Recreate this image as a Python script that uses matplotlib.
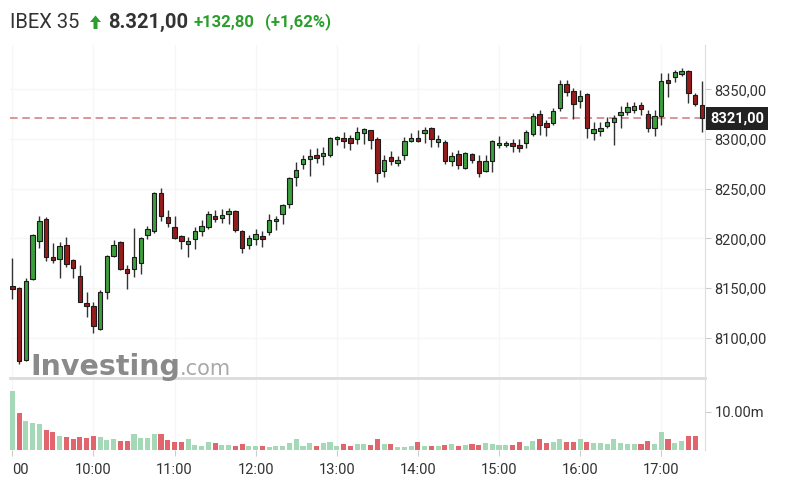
import numpy as np
import matplotlib
matplotlib.use("Agg")
import matplotlib.pyplot as plt
from matplotlib.patches import Polygon
from matplotlib.transforms import Affine2D

plt.rcParams['font.family'] = ['Roboto', 'DejaVu Sans']

# 5-minute candles, IBEX 35, 09:00 .. 17:30
opens = [8152, 8150, 8077, 8159, 8197, 8219, 8181, 8179, 8193, 8178,
         8162, 8135, 8132, 8109, 8146, 8182, 8196, 8169, 8169, 8175,
         8203, 8207, 8246, 8221, 8211, 8202, 8194, 8199, 8207, 8211,
         8222, 8220, 8224, 8228, 8207, 8193, 8199, 8202, 8206, 8217,
         8224, 8235, 8262, 8275, 8280, 8284, 8283, 8284, 8300, 8301,
         8301, 8300, 8306, 8309, 8300, 8268, 8282, 8276, 8284, 8298,
         8301, 8306, 8311, 8297, 8297, 8278, 8285, 8271, 8285, 8278,
         8268, 8278, 8294, 8294, 8296, 8294, 8296, 8305, 8325, 8316,
         8316, 8331, 8355, 8348, 8338, 8345, 8306, 8308, 8313, 8317,
         8324, 8327, 8329, 8334, 8325, 8311, 8323, 8359, 8362, 8365,
         8369, 8344, 8334]
highs = [8180, 8151, 8160, 8204, 8222, 8221, 8195, 8196, 8201, 8179,
         8173, 8146, 8136, 8148, 8183, 8198, 8197, 8173, 8210, 8201,
         8212, 8247, 8251, 8229, 8222, 8203, 8201, 8211, 8218, 8228,
         8229, 8230, 8231, 8229, 8208, 8203, 8209, 8207, 8224, 8222,
         8235, 8262, 8277, 8284, 8290, 8291, 8292, 8302, 8303, 8307,
         8304, 8312, 8311, 8309, 8302, 8284, 8288, 8283, 8302, 8306,
         8309, 8312, 8312, 8304, 8299, 8287, 8289, 8287, 8286, 8284,
         8284, 8299, 8303, 8298, 8300, 8300, 8309, 8326, 8329, 8319,
         8331, 8359, 8359, 8351, 8349, 8346, 8317, 8317, 8322, 8324,
         8333, 8337, 8337, 8337, 8329, 8329, 8366, 8367, 8370, 8372,
         8370, 8346, 8358]
lows = [8139, 8073, 8076, 8158, 8190, 8177, 8175, 8160, 8171, 8160,
        8136, 8121, 8105, 8108, 8139, 8181, 8168, 8149, 8161, 8164,
        8199, 8205, 8217, 8211, 8199, 8189, 8181, 8189, 8202, 8209,
        8216, 8215, 8214, 8206, 8185, 8189, 8193, 8191, 8203, 8208,
        8214, 8231, 8253, 8270, 8263, 8276, 8274, 8282, 8294, 8291,
        8289, 8295, 8295, 8290, 8257, 8262, 8274, 8273, 8279, 8297,
        8297, 8296, 8292, 8292, 8275, 8273, 8270, 8270, 8276, 8262,
        8267, 8267, 8291, 8292, 8287, 8287, 8291, 8303, 8304, 8303,
        8314, 8328, 8343, 8320, 8331, 8301, 8299, 8303, 8311, 8294,
        8311, 8324, 8326, 8324, 8307, 8303, 8314, 8342, 8357, 8363,
        8336, 8333, 8307]
closes = [8149, 8076, 8157, 8203, 8217, 8181, 8178, 8192, 8174, 8170,
          8136, 8132, 8112, 8146, 8182, 8193, 8169, 8165, 8181, 8200,
          8209, 8246, 8222, 8215, 8200, 8197, 8197, 8207, 8212, 8224,
          8219, 8223, 8228, 8208, 8190, 8200, 8204, 8199, 8218, 8219,
          8234, 8261, 8269, 8280, 8283, 8281, 8286, 8301, 8302, 8298,
          8296, 8307, 8310, 8299, 8266, 8279, 8278, 8279, 8298, 8301,
          8298, 8309, 8300, 8300, 8278, 8283, 8274, 8286, 8279, 8266,
          8278, 8298, 8296, 8296, 8293, 8291, 8307, 8323, 8314, 8312,
          8328, 8355, 8347, 8335, 8343, 8311, 8310, 8311, 8317, 8321,
          8327, 8332, 8333, 8330, 8311, 8323, 8358, 8356, 8368, 8369,
          8346, 8335, 8321]
# volume in millions
volumes = [15.5, 9.7, 7.7, 7.1, 6.8, 5.1, 4.8, 3.7, 3.5, 2.9,
           3.3, 3.1, 3.7, 3.3, 2.6, 3.0, 2.4, 2.4, 4.1, 3.2,
           3.1, 4.1, 4.1, 2.5, 2.2, 2.2, 2.8, 1.3, 1.0, 2.0,
           1.7, 1.4, 1.4, 1.1, 1.6, 1.0, 1.0, 1.0, 0.8, 1.0,
           1.0, 1.7, 2.8, 1.0, 1.7, 1.1, 1.9, 2.1, 1.0, 1.5,
           1.0, 1.5, 1.5, 1.2, 3.0, 1.5, 1.5, 0.9, 0.9, 1.0,
           2.1, 1.0, 1.0, 1.0, 1.2, 1.6, 1.0, 1.2, 1.6, 1.2,
           1.8, 1.6, 1.2, 1.2, 1.2, 2.1, 1.0, 2.4, 2.8, 1.9,
           2.1, 3.0, 2.2, 2.1, 2.8, 2.2, 1.7, 1.7, 1.6, 2.8,
           1.9, 1.6, 1.6, 1.6, 2.4, 1.6, 4.8, 2.9, 1.9, 2.4,
           3.7, 3.7, 0.0]

# first hour label is cut to "00" at the plot edge in the original
hour_labels = ['00', '10:00', '11:00', '12:00', '13:00',
               '14:00', '15:00', '16:00', '17:00']
price_ticks = [8100, 8150, 8200, 8250, 8300, 8350]
last_price = 8321

GREEN = '#3d9e3d'
RED = '#961c1c'
VOL_GREEN = '#a4d8b6'
VOL_RED = '#e0656c'
TXT = '#333333'
HDR_GREEN = '#2b9e2b'
GRID = '#f6f6f6'

W, H = 789, 495
fig = plt.figure(figsize=(W / 100, H / 100), dpi=100)
fig.patch.set_facecolor('white')

# pixel helper (origin top-left)
pix = Affine2D().scale(1 / W, -1 / H).translate(0, 1) + fig.transFigure

ax = fig.add_axes([10 / W, (H - 377) / H, 695 / W, (377 - 45) / H])
vax = fig.add_axes([10 / W, (H - 450) / H, 695 / W, (450 - 378) / H], sharex=ax)

o = np.array(opens, float)
hi = np.array(highs, float)
lo = np.array(lows, float)
c = np.array(closes, float)
idx = np.arange(len(o))
up = c >= o
cols = np.where(up, GREEN, RED)

# watermark
fig.text(30 / W, 1 - 375 / H, 'Investing', family='DejaVu Sans', weight='bold',
         fontsize=20.5, color='#8a8a8a', va='baseline', ha='left', zorder=0)
fig.text(180 / W, 1 - 375 / H, '.com', family='DejaVu Sans',
         fontsize=15, color='#a8a8a8', va='baseline', ha='left', zorder=0)

# candles
ax.vlines(idx, lo, hi, color='#333333', lw=1, zorder=2)
body = np.maximum(np.abs(c - o), 1.0)
ax.bar(idx, body, bottom=np.minimum(o, c), width=0.66, color=cols,
       edgecolor='#1a1a1a', linewidth=0.8, zorder=3)

ax.axhline(last_price, color='#cf7b7b', lw=1.1, ls=(0, (5, 3)), zorder=1)

ax.set_xlim(-0.34, 102.47)
ax.set_ylim(8060.3, 8394.7)
ax.set_yticks(price_ticks)
ax.set_yticklabels([f'{p},00' for p in price_ticks])
ax.yaxis.tick_right()
ax.tick_params(axis='y', length=4, color='#cccccc', labelsize=10.5,
               labelcolor=TXT, pad=3)
ax.tick_params(axis='x', length=0, labelbottom=False)
ax.grid(True, color=GRID, lw=1, zorder=0)
for s in ['top', 'left', 'bottom']:
    ax.spines[s].set_visible(False)
ax.spines['right'].set_color('#dddddd')
ax.set_axisbelow(True)

ax.annotate(f'{last_price},00', xy=(1, last_price), xycoords=('axes fraction', 'data'),
            xytext=(5, 0), textcoords='offset pixels', va='center', ha='left',
            color='white', fontsize=10.5, weight='bold', annotation_clip=False,
            bbox=dict(boxstyle='square,pad=0.3', fc='#222222', ec='none'))

# volume
vcols = np.where(up, VOL_GREEN, VOL_RED)
vcols[0] = VOL_GREEN
vax.bar(idx, volumes, width=0.75, color=vcols, zorder=2)
vax.set_ylim(0, 18.8)
vax.set_yticks([10])
vax.set_yticklabels(['10.00m'])
vax.yaxis.tick_right()
vax.tick_params(axis='y', length=4, color='#cccccc', labelsize=10.5,
                labelcolor=TXT, pad=3)
vax.set_xticks(np.arange(0, len(o), 12))
vax.set_xticklabels(hour_labels)
vax.tick_params(axis='x', length=4, color='#cccccc', labelsize=10.5,
                labelcolor=TXT, pad=5)
vax.get_xticklabels()[0].set_ha('left')
vax.grid(True, axis='x', color=GRID, lw=1, zorder=0)
vax.spines['left'].set_visible(False)
vax.spines['bottom'].set_visible(False)
vax.spines['right'].set_color('#dddddd')
vax.spines['top'].set_color('#dcdcdc')
vax.spines['top'].set_linewidth(2)
vax.set_axisbelow(True)

# header
fig.text(10 / W, 1 - 22 / H, 'IBEX 35', fontsize=14.5, color=TXT, va='center', ha='left')
arrow = Polygon([(90, 22), (95.5, 15.5), (101, 22), (97.5, 22), (97.5, 29),
                 (93.5, 29), (93.5, 22)], closed=True, transform=pix,
                fc=HDR_GREEN, ec='none')
fig.patches.append(arrow)
fig.text(108 / W, 1 - 22 / H, '8.321,00', fontsize=14.5, weight='bold', color=TXT,
         va='center', ha='left')
fig.text(193 / W, 1 - 22 / H, '+132,80', fontsize=12, weight='bold', color=HDR_GREEN,
         va='center', ha='left')
fig.text(265 / W, 1 - 22 / H, '(+1,62%)', fontsize=12, weight='bold', color=HDR_GREEN,
         va='center', ha='left')

fig.savefig('out.png', dpi=100)
